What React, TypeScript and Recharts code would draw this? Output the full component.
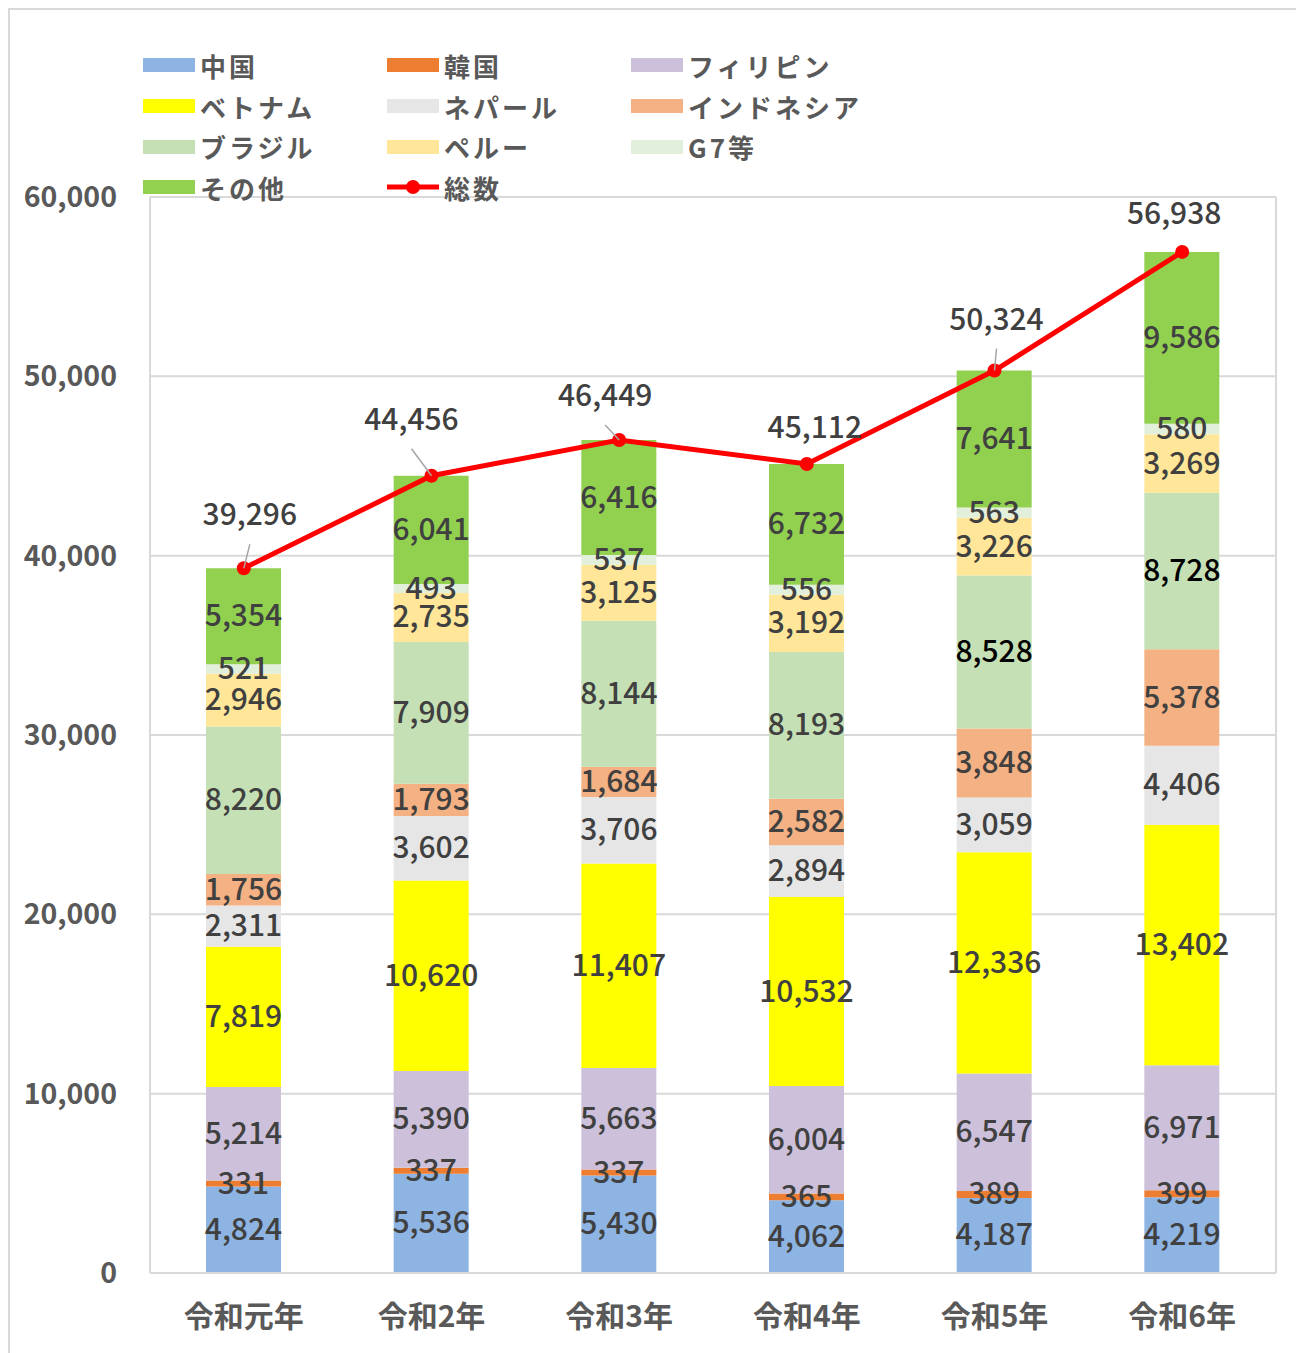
import { ComposedChart, Bar, Line, XAxis, YAxis, CartesianGrid, Legend, LabelList } from 'recharts';

const CATEGORIES = ['令和元年', '令和2年', '令和3年', '令和4年', '令和5年', '令和6年'];
const CHINA = [4824, 5536, 5430, 4062, 4187, 4219];
const KOREA = [331, 337, 337, 365, 389, 399];
const PHILIPPINES = [5214, 5390, 5663, 6004, 6547, 6971];
const VIETNAM = [7819, 10620, 11407, 10532, 12336, 13402];
const NEPAL = [2311, 3602, 3706, 2894, 3059, 4406];
const INDONESIA = [1756, 1793, 1684, 2582, 3848, 5378];
const BRAZIL = [8220, 7909, 8144, 8193, 8528, 8728];
const PERU = [2946, 2735, 3125, 3192, 3226, 3269];
const G7 = [521, 493, 537, 556, 563, 580];
const OTHERS = [5354, 6041, 6416, 6732, 7641, 9586];
const TOTAL = [39296, 44456, 46449, 45112, 50324, 56938];
const Y_TICKS = [0, 10000, 20000, 30000, 40000, 50000, 60000];

const SERIES = [
  { key: 'china', name: '中国', color: '#8db4e2', values: CHINA },
  { key: 'korea', name: '韓国', color: '#ed7d31', values: KOREA },
  { key: 'philippines', name: 'フィリピン', color: '#ccc0da', values: PHILIPPINES },
  { key: 'vietnam', name: 'ベトナム', color: '#ffff00', values: VIETNAM },
  { key: 'nepal', name: 'ネパール', color: '#e7e6e6', values: NEPAL },
  { key: 'indonesia', name: 'インドネシア', color: '#f4b183', values: INDONESIA },
  { key: 'brazil', name: 'ブラジル', color: '#c5e0b4', values: BRAZIL },
  { key: 'peru', name: 'ペルー', color: '#ffe699', values: PERU },
  { key: 'g7', name: 'G7等', color: '#e2efda', values: G7 },
  { key: 'others', name: 'その他', color: '#92d050', values: OTHERS },
];

// label placement for the total line (dx, dy from point, leader line on/off)
const TOTAL_LABEL_POS = [
  { dx: 6, dy: -53, leader: true },
  { dx: -20, dy: -56, leader: true },
  { dx: -14, dy: -44, leader: true },
  { dx: 8, dy: -36, leader: false },
  { dx: 2, dy: -51, leader: true },
  { dx: -8, dy: -38, leader: false },
];

const data = CATEGORIES.map((name, i) => {
  const row: Record<string, any> = { name, total: TOTAL[i] };
  SERIES.forEach(s => { row[s.key] = s.values[i]; });
  return row;
});

const FONT = '"Noto Sans CJK JP", "Noto Sans", sans-serif';
const fmt = (v: number) => Number(v).toLocaleString('en-US');

function SegmentLabel(props: any) {
  const { x, y, width, height, value, index, seriesKey } = props;
  const dark = seriesKey === 'brazil' && index >= 4;
  return (
    <text
      x={Number(x) + Number(width) / 2}
      y={Number(y) + Number(height) / 2 - 3}
      textAnchor="middle"
      dominantBaseline="central"
      fontFamily={FONT}
      fontSize={30}
      fontWeight={500}
      fill={dark ? '#000000' : '#404040'}
    >
      {fmt(value)}
    </text>
  );
}

function TotalLabel(props: any) {
  const { x, y, value, index } = props;
  const pos = TOTAL_LABEL_POS[index];
  const lx = x + pos.dx;
  const ly = y + pos.dy;
  return (
    <g>
      {pos.leader && (
        <line x1={lx} y1={ly + 29} x2={x} y2={y} stroke="#a6a6a6" strokeWidth={1.5} />
      )}
      <text
        x={lx}
        y={ly - 3}
        textAnchor="middle"
        dominantBaseline="central"
        fontFamily={FONT}
        fontSize={30}
        fontWeight={500}
        fill="#404040"
      >
        {fmt(value)}
      </text>
    </g>
  );
}

function LegendBox() {
  const items = [
    ...SERIES.map(s => ({ name: s.name, color: s.color, line: false })),
    { name: '総数', color: '#ff0000', line: true },
  ];
  return (
    <div style={{ display: 'grid', gridTemplateColumns: '244px 244px 244px', fontFamily: FONT }}>
      {items.map(it => (
        <div key={it.name} style={{ display: 'flex', alignItems: 'center', height: 40.7 }}>
          {it.line ? (
            <svg width={52} height={16} style={{ marginRight: 5 }}>
              <line x1={0} y1={8} x2={52} y2={8} stroke="#ff0000" strokeWidth={5} />
              <circle cx={26} cy={8} r={7} fill="#ff0000" />
            </svg>
          ) : (
            <span style={{ display: 'inline-block', width: 52, height: 14, background: it.color, marginRight: 5 }} />
          )}
          <span style={{ fontSize: 26, fontWeight: 700, color: '#595959', whiteSpace: 'nowrap', letterSpacing: 3 }}>{it.name}</span>
        </div>
      ))}
    </div>
  );
}

export default function App() {
  return (
    <div style={{ position: 'relative', width: 1296, height: 1350 }}>
      <div style={{ position: 'absolute', inset: 0, border: '2px solid #d9d9d9', boxSizing: 'border-box', pointerEvents: 'none' }} />
      <ComposedChart
        width={1296}
        height={1345}
        data={data}
        margin={{ top: 189, right: 28, bottom: 30, left: 22 }}
        barSize={75}
      >
        <CartesianGrid
          stroke="#d9d9d9"
          strokeWidth={2}
          verticalCoordinatesGenerator={({ offset }: any) => [offset.left, offset.left + offset.width]}
        />
        <XAxis
          dataKey="name"
          height={50}
          tickLine={false}
          axisLine={{ stroke: '#d9d9d9', strokeWidth: 2 }}
          tickMargin={27}
          tick={{ fill: '#595959', fontSize: 30, fontWeight: 700, fontFamily: FONT }}
        />
        <YAxis
          width={120}
          domain={[0, 60000]}
          ticks={Y_TICKS}
          tickLine={false}
          axisLine={{ stroke: '#d9d9d9', strokeWidth: 2 }}
          tickMargin={27}
          tickFormatter={fmt}
          tick={{ fill: '#595959', fontSize: 28.5, fontWeight: 700, fontFamily: FONT }}
        />
        <Legend
          layout="horizontal"
          verticalAlign="middle"
          align="center"
          wrapperStyle={{ top: 37, left: 135, width: 760 }}
          content={() => <LegendBox />}
        />
        {SERIES.map(s => (
          <Bar key={s.key} dataKey={s.key} name={s.name} stackId="a" fill={s.color} isAnimationActive={false}>
            <LabelList dataKey={s.key} content={(p: any) => <SegmentLabel {...p} seriesKey={s.key} />} />
          </Bar>
        ))}
        <Line
          dataKey="total"
          name="総数"
          stroke="#ff0000"
          strokeWidth={5}
          dot={{ r: 7, fill: '#ff0000', stroke: 'none' }}
          activeDot={false}
          isAnimationActive={false}
        >
          <LabelList dataKey="total" content={(p: any) => <TotalLabel {...p} />} />
        </Line>
      </ComposedChart>
    </div>
  );
}
